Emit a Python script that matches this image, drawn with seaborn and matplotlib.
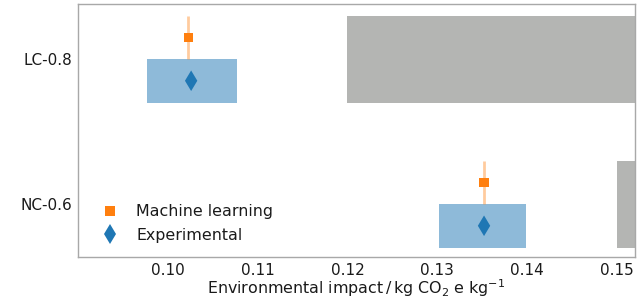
import matplotlib
matplotlib.use("Agg")
import matplotlib.pyplot as plt
import seaborn as sns
import pandas as pd
from matplotlib.lines import Line2D

# ---- data ----
categories = ["LC-0.8", "NC-0.6"]
exp_value = [0.1026, 0.1352]
exp_low = [0.0977, 0.1302]
exp_high = [0.1077, 0.1399]
ml_value = [0.1023, 0.1352]
ref_low = [0.120, 0.150]
ref_high = [0.200, 0.200]
xticks = [0.10, 0.11, 0.12, 0.13, 0.14, 0.15]

sns.set_theme(style="white")
plt.rcParams["font.family"] = ["DejaVu Sans"]

fig = plt.figure(figsize=(6.44, 3.0), dpi=100)
ax = fig.add_axes([0.121, 0.143, 0.865, 0.844])

ypos = list(range(len(categories)))
half = 0.3

# reference range (gray), full band
ax.barh([y for y in ypos], [h - l for l, h in zip(ref_low, ref_high)], left=ref_low,
        height=2 * half, color="#b4b5b3", edgecolor="none", zorder=1)
# experimental range (blue), lower half
ax.barh([y + half / 2 for y in ypos], [h - l for l, h in zip(exp_low, exp_high)], left=exp_low,
        height=half, color="tab:blue", alpha=0.5, edgecolor="none", zorder=2)
# ML line, upper half
for y, v in zip(ypos, ml_value):
    ax.plot([v, v], [y - half, y], color="tab:orange", alpha=0.4, lw=2, zorder=2,
            solid_capstyle="butt")

df_ml = pd.DataFrame({"x": ml_value, "y": [y - half / 2 for y in ypos]})
df_exp = pd.DataFrame({"x": exp_value, "y": [y + half / 2 for y in ypos]})
sns.scatterplot(data=df_ml, x="x", y="y", marker="s", s=45, color="tab:orange",
                edgecolor="none", ax=ax, zorder=3)
sns.scatterplot(data=df_exp, x="x", y="y", marker="d", s=110, color="tab:blue",
                edgecolor="none", ax=ax, zorder=3)

ax.set_xlim(0.09, 0.152)
ax.set_ylim(1.366, -0.38)
ax.set_yticks(ypos)
ax.set_yticklabels(categories)
ax.set_xticks(xticks)
ax.set_xticklabels([f"{t:.2f}" for t in xticks])
ax.set_ylabel("")
ax.set_xlabel(r"Environmental impact$\,$/$\,$kg CO$_2$ e kg$^{-1}$", fontsize=11.4,
              color="#1a1a1a", labelpad=0)
ax.tick_params(axis="both", labelsize=11, colors="#1a1a1a", length=2.5, width=0.8,
               pad=1.5, color="#999999")
ax.tick_params(axis="x", direction="out")
for s in ax.spines.values():
    s.set_color("#a8a8a8")
    s.set_linewidth(1.0)

handles = [
    Line2D([], [], marker="s", color="tab:orange", ls="none", markersize=6.5, markeredgewidth=0),
    Line2D([], [], marker="d", color="tab:blue", ls="none", markersize=10.5, markeredgewidth=0),
]
leg = ax.legend(handles, ["Machine learning", "Experimental"], loc="lower left",
                bbox_to_anchor=(0.004, 0.0), frameon=False, fontsize=11.4,
                handletextpad=0.65, labelspacing=0.55)
for t in leg.get_texts():
    t.set_color("#1a1a1a")

fig.savefig("out.png", dpi=100)
